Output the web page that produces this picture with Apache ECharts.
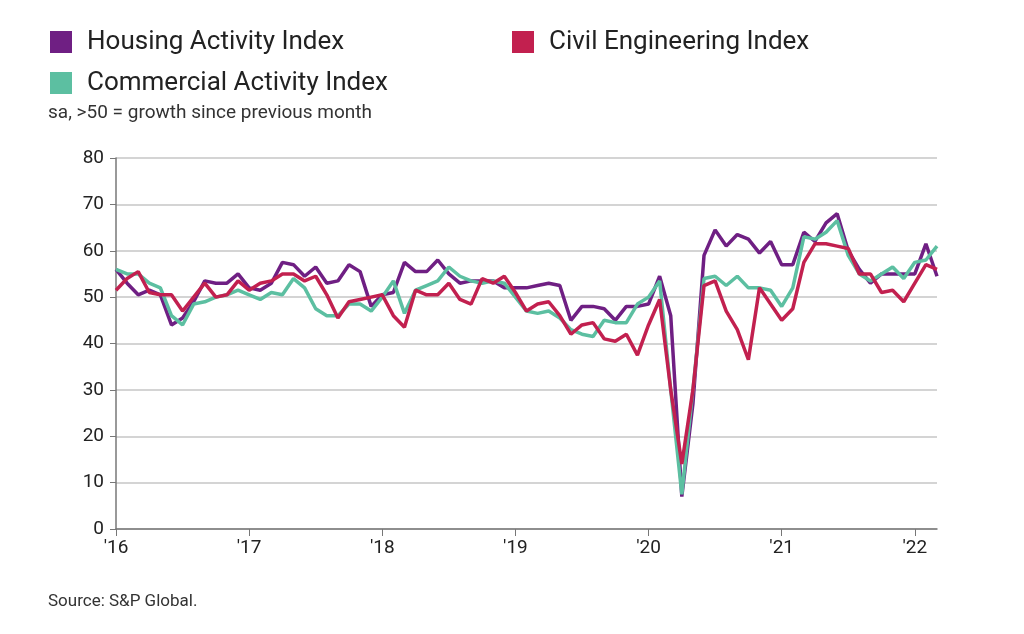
<!DOCTYPE html><html><head><meta charset="utf-8"><script src="https://cdn.jsdelivr.net/npm/echarts@6/dist/echarts.min.js"></script>
<style>html,body{margin:0;background:#fff}#c{width:1024px;height:634px}</style></head><body><div id="c"></div><script>
const months=[];for(let y=2016;y<=2022;y++)for(let m=1;m<=12;m++){if(y===2022&&m>3)break;months.push(y+'-'+(m<10?'0':'')+m);}
const housing=[56,53,50.5,51.5,50.5,44,45.5,49,53.5,53,53,55,
52,51.5,53,57.5,57,54.5,56.5,53,53.5,57,55.5,48,
50.5,51,57.5,55.5,55.5,58,55,53,53.5,53.5,53.5,52,
52,52,52.5,53,52.5,45,48,48,47.5,45,48,48,
48.5,54.5,46,7,27,59,64.5,61,63.5,62.5,59.5,62,
57,57,64,62,66,68,60,56,53,55,55,55,
55,61.5,54.5];
const commercial=[56,55,55,53,52,46,44,48.5,49,50,50.5,51.5,
50.5,49.5,51,50.5,54,52,47.5,46,46,48.5,48.5,47,
50,53.5,46.5,51.5,52.5,53.5,56.5,54.5,53.5,53,53.5,53,
50,47,46.5,47,45.5,43,42,41.5,45,44.5,44.5,48.5,
50,53.5,30,7.5,30,54,54.5,52.5,54.5,52,52,51.5,
48,52,63,62.5,64,66.5,59,55,53.5,55,56.5,54,
57.5,58,61];
const civil=[51.5,54,55.5,51,50.5,50.5,47,50,53,50,50.5,53.5,
51.5,53,53.5,55,55,53.5,54.5,50.5,45.5,49,49.5,50,
50.5,46,43.5,51.5,50.5,50.5,53,49.5,48.5,54,53,54.5,
51,47,48.5,49,46,42,44,44.5,41,40.5,42,37.5,
44,49.5,30,14,30,52.5,53.5,47,43,36.5,52,48.5,
45,47.5,57.5,61.5,61.5,61,60.5,55,55,51,51.5,49,
53,57,56];
const yTicks=[0,10,20,30,40,50,60,70,80];
const ch=echarts.init(document.getElementById('c'));
const ln=(n,d,c)=>({name:n,type:'line',data:d,showSymbol:false,lineStyle:{width:3.5,color:c},itemStyle:{color:c}});
const lg=(n,l,t)=>({data:[n],left:l,top:t,icon:'rect',itemWidth:22,itemHeight:22,itemGap:10,textStyle:{fontSize:26,color:'#222',fontFamily:'Roboto',padding:[0,0,0,10]}});
ch.setOption({
animation:false,
legend:[lg('Housing Activity Index',45,24),lg('Civil Engineering Index',507,24),lg('Commercial Activity Index',45,65)],
graphic:[{type:'text',left:48,top:104,style:{text:'sa, >50 = growth since previous month',fontSize:19,fill:'#333',fontFamily:'Roboto'}},
{type:'text',left:48,top:593,style:{text:'Source: S&P Global.',fontSize:17,fill:'#333',fontFamily:'Roboto'}}],
grid:{left:116,right:87,top:158,bottom:105},
xAxis:{type:'category',data:months,boundaryGap:false,
axisLine:{lineStyle:{color:'#777',width:1.5}},
axisTick:{interval:(i)=>i%12===0,length:7,lineStyle:{color:'#777'}},
axisLabel:{interval:(i)=>i%12===0,formatter:v=>"'"+v.slice(2,4),fontSize:19,color:'#222',margin:10,fontFamily:'Roboto'}},
yAxis:{type:'value',min:0,max:80,interval:10,
axisLine:{show:true,lineStyle:{color:'#777',width:1.5}},axisTick:{show:true,length:6,lineStyle:{color:'#777'}},
splitLine:{lineStyle:{color:'#d4d4d4',width:2}},
axisLabel:{fontSize:19,color:'#222',margin:12,fontFamily:'Roboto',formatter:v=>yTicks.includes(v)?String(v):''}},
series:[ln('Housing Activity Index',housing,'#6f1f83'),ln('Commercial Activity Index',commercial,'#5cbfa1'),ln('Civil Engineering Index',civil,'#c2204f')]
});
</script></body></html>
